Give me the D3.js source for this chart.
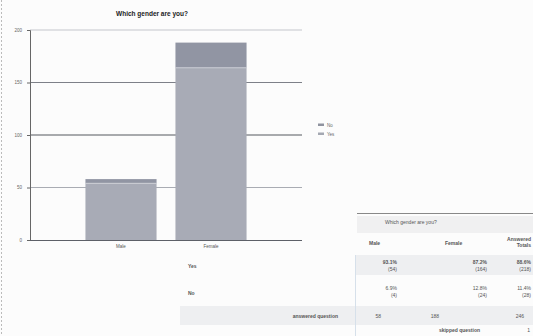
<!DOCTYPE html>
<html>
<head>
<meta charset="utf-8">
<script src="https://cdn.jsdelivr.net/npm/d3@7"></script>
<style>
  body { margin: 0; background: #fff; }
  svg { display: block; font-family: 'Liberation Sans', Arial, sans-serif; }
</style>
</head>
<body>
<svg class="chart" width="533" height="336"></svg>
<script>
// chart data
var categories = ['Male', 'Female']
var yesCounts = [54, 164]
var noCounts = [4, 24]
var yTicks = [0, 50, 100, 150, 200]
var legendLabels = ['No', 'Yes']

// table data
var tableCols = ['Male', 'Female']
var yesPct = ['93.1%', '87.2%', '88.6%']
var yesN = ['(54)', '(164)', '(218)']
var noPct = ['6.9%', '12.8%', '11.4%']
var noN = ['(4)', '(24)', '(28)']
var answered = ['58', '188', '246']
var skipped = '1'

const svg = d3.select('.chart')
const W = 533, H = 336

svg.append('rect').attr('width', W).attr('height', H).attr('fill', '#fcfcfc')

// faint dashed left border
svg.append('line')
  .attr('x1', 1.5).attr('x2', 1.5).attr('y1', 0).attr('y2', H)
  .attr('stroke', '#bbb').attr('stroke-dasharray', '2,2')

const plotLeft = 30, plotRight = 302, plotTop = 30, plotBottom = 240

const x = d3.scaleBand()
  .domain(categories)
  .range([plotLeft, plotRight])
  .paddingInner(0.21)
  .paddingOuter(0.616)

const y = d3.scaleLinear().domain([0, 200]).range([plotBottom, plotTop])

// title
svg.append('text')
  .attr('x', 152).attr('y', 16)
  .attr('text-anchor', 'middle')
  .attr('font-size', 6.5).attr('font-weight', 'bold')
  .attr('fill', '#222')
  .text('Which gender are you?')

// gridlines
var gridColor = { 200: '#c4c6cc', 150: '#7d8088', 100: '#55585f', 50: '#a9acb3' }
svg.append('g')
  .selectAll('line')
  .data(yTicks.filter(d => d > 0))
  .enter()
  .append('line')
  .attr('x1', plotLeft).attr('x2', plotRight)
  .attr('y1', d => y(d)).attr('y2', d => y(d))
  .attr('stroke', d => gridColor[d])
  .attr('stroke-width', 1)

// stacked bars
var bars = categories.map((c, i) => ({ cat: c, yes: yesCounts[i], no: noCounts[i] }))

svg.append('g')
  .selectAll('rect')
  .data(bars)
  .enter()
  .append('rect')
  .attr('x', d => x(d.cat))
  .attr('y', d => y(d.yes))
  .attr('width', x.bandwidth())
  .attr('height', d => plotBottom - y(d.yes))
  .attr('fill', '#a8abb6')

svg.append('g')
  .selectAll('rect')
  .data(bars)
  .enter()
  .append('rect')
  .attr('x', d => x(d.cat))
  .attr('y', d => y(d.yes + d.no))
  .attr('width', x.bandwidth())
  .attr('height', d => y(d.yes) - y(d.yes + d.no))
  .attr('fill', '#9195a3')

// light seam between segments
svg.append('g')
  .selectAll('line')
  .data(bars)
  .enter()
  .append('line')
  .attr('x1', d => x(d.cat)).attr('x2', d => x(d.cat) + x.bandwidth())
  .attr('y1', d => y(d.yes)).attr('y2', d => y(d.yes))
  .attr('stroke', '#d4d6dc').attr('stroke-width', 0.8)

// axes
const yAxis = svg.append('g')
  .attr('transform', `translate(${plotLeft},0)`)
  .call(d3.axisLeft(y).tickValues(yTicks).tickSize(3).tickPadding(5))
yAxis.select('.domain').attr('stroke', '#666')
yAxis.selectAll('line').attr('stroke', '#666')
yAxis.selectAll('text').attr('font-size', 4.5).attr('fill', '#666')

const xAxis = svg.append('g')
  .attr('transform', `translate(0,${plotBottom})`)
  .call(d3.axisBottom(x).tickSize(0).tickPadding(5))
xAxis.select('.domain').attr('stroke', '#5d6068').attr('d', `M${plotLeft},0.5H${plotRight}`)
xAxis.selectAll('text').attr('font-size', 4.5).attr('fill', '#555')

// legend
var legendColors = ['#8f939f', '#a4a8b2']
var legend = svg.append('g').attr('transform', 'translate(318,125)')
legendLabels.forEach(function(l, i) {
  legend.append('rect')
    .attr('x', 0).attr('y', i * 9 - 1.5)
    .attr('width', 6).attr('height', 2.5)
    .attr('fill', legendColors[i])
  legend.append('text')
    .attr('x', 9).attr('y', i * 9 + 1.5)
    .attr('font-size', 4.5).attr('fill', '#666')
    .text(l)
})

// table
const t = svg.append('g').attr('font-size', 5).attr('fill', '#555')
t.append('line').attr('x1', 357).attr('x2', 533).attr('y1', 213.5).attr('y2', 213.5)
  .attr('stroke', '#888')
t.append('rect').attr('x', 357).attr('y', 216).attr('width', 176).attr('height', 17)
  .attr('fill', '#f0f0f1')
t.append('text').attr('x', 385).attr('y', 224).text('Which gender are you?')

var colRight = [397, 487, 531]
t.append('text').attr('x', 369).attr('y', 245).attr('font-weight', 'bold').text(tableCols[0])
t.append('text').attr('x', 445).attr('y', 245).attr('font-weight', 'bold').text(tableCols[1])
t.append('text').attr('x', 531).attr('y', 241).attr('text-anchor', 'end').attr('font-weight', 'bold').text('Answered')
t.append('text').attr('x', 531).attr('y', 247).attr('text-anchor', 'end').attr('font-weight', 'bold').text('Totals')

// yes row
t.append('rect').attr('x', 355).attr('y', 255).attr('width', 178).attr('height', 20).attr('fill', '#eeeff1')
t.append('text').attr('x', 188).attr('y', 268).attr('font-weight', 'bold').text('Yes')
colRight.forEach(function(cx, i) {
  t.append('text').attr('x', cx).attr('y', 264).attr('text-anchor', 'end').attr('font-weight', 'bold').text(yesPct[i])
  t.append('text').attr('x', cx).attr('y', 271).attr('text-anchor', 'end').text(yesN[i])
})

// no row
t.append('text').attr('x', 188).attr('y', 295).attr('font-weight', 'bold').text('No')
colRight.forEach(function(cx, i) {
  t.append('text').attr('x', cx).attr('y', 290).attr('text-anchor', 'end').text(noPct[i])
  t.append('text').attr('x', cx).attr('y', 297).attr('text-anchor', 'end').text(noN[i])
})

// answered row
t.append('rect').attr('x', 180).attr('y', 306).attr('width', 353).attr('height', 19).attr('fill', '#eeeff1')
t.append('text').attr('x', 338).attr('y', 318).attr('text-anchor', 'end').attr('font-weight', 'bold').text('answered question')
var ansX = [381, 439, 524]
answered.forEach(function(v, i) {
  t.append('text').attr('x', ansX[i]).attr('y', 318).attr('text-anchor', 'end').text(v)
})
t.append('text').attr('x', 480).attr('y', 332).attr('text-anchor', 'end').attr('font-weight', 'bold').text('skipped question')
t.append('text').attr('x', 530).attr('y', 332).attr('text-anchor', 'end').text(skipped)

// faint column divider
t.append('line').attr('x1', 355.5).attr('x2', 355.5).attr('y1', 255).attr('y2', 336)
  .attr('stroke', '#d6e0ea')
</script>
</body>
</html>
